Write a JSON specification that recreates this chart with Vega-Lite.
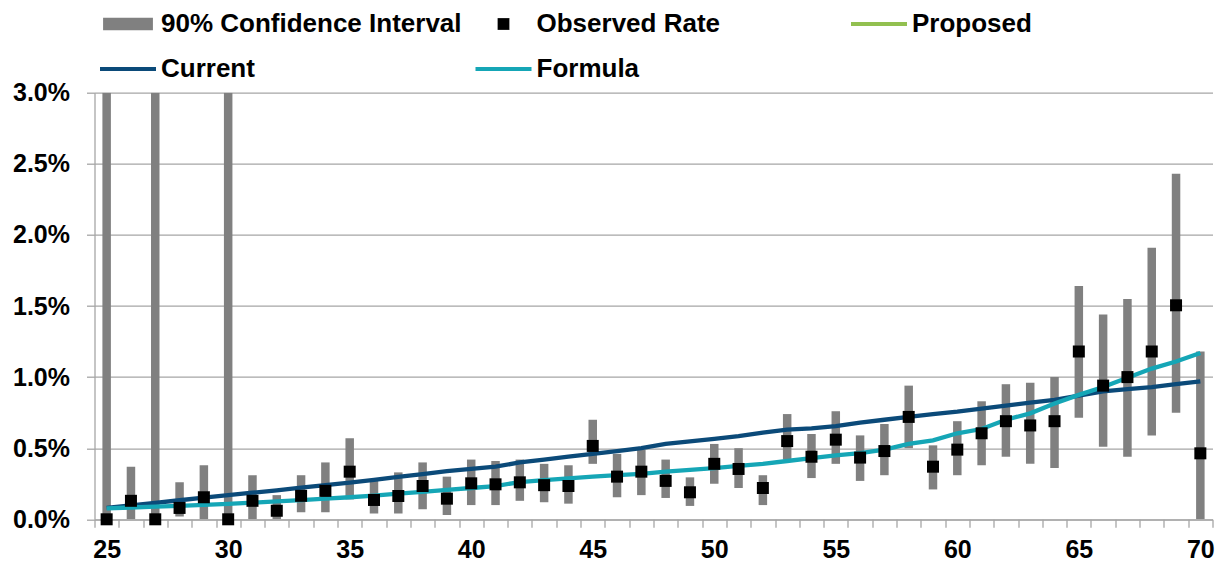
{
  "$schema": "https://vega.github.io/schema/vega-lite/v6.json",
  "autosize": {"type": "none"},
  "padding": {"left": 94.5, "top": 92.7, "right": 5.5, "bottom": 42.7},
  "width": 1118,
  "height": 426.6,
  "background": "white",
  "config": {
    "view": {"stroke": null},
    "font": "Liberation Sans"
  },
  "datasets": {
    "rates": [
      {"age": 25, "lo": 0, "hi": 3.0, "obs": 0.0, "cur": 0.08, "form": 0.077},
      {"age": 26, "lo": 0, "hi": 0.37, "obs": 0.13, "cur": 0.098, "form": 0.083},
      {"age": 27, "lo": 0, "hi": 3.0, "obs": 0.0, "cur": 0.116, "form": 0.089},
      {"age": 28, "lo": 0.02, "hi": 0.26, "obs": 0.08, "cur": 0.134, "form": 0.095},
      {"age": 29, "lo": 0, "hi": 0.38, "obs": 0.155, "cur": 0.152, "form": 0.101},
      {"age": 30, "lo": 0, "hi": 3.0, "obs": 0.0, "cur": 0.17, "form": 0.108},
      {"age": 31, "lo": 0, "hi": 0.31, "obs": 0.13, "cur": 0.187, "form": 0.117},
      {"age": 32, "lo": 0, "hi": 0.17, "obs": 0.06, "cur": 0.204, "form": 0.126},
      {"age": 33, "lo": 0.05, "hi": 0.31, "obs": 0.165, "cur": 0.222, "form": 0.135},
      {"age": 34, "lo": 0.05, "hi": 0.40, "obs": 0.20, "cur": 0.24, "form": 0.145},
      {"age": 35, "lo": 0.14, "hi": 0.57, "obs": 0.335, "cur": 0.258, "form": 0.155},
      {"age": 36, "lo": 0.04, "hi": 0.28, "obs": 0.136, "cur": 0.278, "form": 0.167},
      {"age": 37, "lo": 0.04, "hi": 0.33, "obs": 0.164, "cur": 0.298, "form": 0.18},
      {"age": 38, "lo": 0.07, "hi": 0.40, "obs": 0.234, "cur": 0.318, "form": 0.193},
      {"age": 39, "lo": 0.03, "hi": 0.30, "obs": 0.145, "cur": 0.338, "form": 0.207},
      {"age": 40, "lo": 0.10, "hi": 0.42, "obs": 0.253, "cur": 0.355, "form": 0.22},
      {"age": 41, "lo": 0.10, "hi": 0.41, "obs": 0.246, "cur": 0.37, "form": 0.234},
      {"age": 42, "lo": 0.13, "hi": 0.42, "obs": 0.26, "cur": 0.40, "form": 0.262},
      {"age": 43, "lo": 0.12, "hi": 0.39, "obs": 0.24, "cur": 0.42, "form": 0.275},
      {"age": 44, "lo": 0.11, "hi": 0.38, "obs": 0.234, "cur": 0.44, "form": 0.288},
      {"age": 45, "lo": 0.39, "hi": 0.70, "obs": 0.516, "cur": 0.46, "form": 0.30},
      {"age": 46, "lo": 0.155, "hi": 0.46, "obs": 0.30, "cur": 0.48, "form": 0.31},
      {"age": 47, "lo": 0.17, "hi": 0.49, "obs": 0.335, "cur": 0.50, "form": 0.32},
      {"age": 48, "lo": 0.15, "hi": 0.42, "obs": 0.27, "cur": 0.53, "form": 0.335},
      {"age": 49, "lo": 0.094, "hi": 0.295, "obs": 0.19, "cur": 0.548, "form": 0.348},
      {"age": 50, "lo": 0.25, "hi": 0.53, "obs": 0.39, "cur": 0.565, "form": 0.36},
      {"age": 51, "lo": 0.22, "hi": 0.50, "obs": 0.354, "cur": 0.585, "form": 0.375},
      {"age": 52, "lo": 0.10, "hi": 0.31, "obs": 0.22, "cur": 0.61, "form": 0.39},
      {"age": 53, "lo": 0.42, "hi": 0.74, "obs": 0.55, "cur": 0.63, "form": 0.41},
      {"age": 54, "lo": 0.29, "hi": 0.60, "obs": 0.44, "cur": 0.64, "form": 0.43},
      {"age": 55, "lo": 0.39, "hi": 0.76, "obs": 0.56, "cur": 0.655, "form": 0.45},
      {"age": 56, "lo": 0.27, "hi": 0.59, "obs": 0.434, "cur": 0.68, "form": 0.466},
      {"age": 57, "lo": 0.31, "hi": 0.67, "obs": 0.48, "cur": 0.70, "form": 0.49},
      {"age": 58, "lo": 0.50, "hi": 0.94, "obs": 0.72, "cur": 0.72, "form": 0.53},
      {"age": 59, "lo": 0.21, "hi": 0.52, "obs": 0.37, "cur": 0.74, "form": 0.555},
      {"age": 60, "lo": 0.31, "hi": 0.69, "obs": 0.49, "cur": 0.757, "form": 0.605},
      {"age": 61, "lo": 0.38, "hi": 0.83, "obs": 0.605, "cur": 0.778, "form": 0.635},
      {"age": 62, "lo": 0.44, "hi": 0.95, "obs": 0.69, "cur": 0.80, "form": 0.70},
      {"age": 63, "lo": 0.39, "hi": 0.96, "obs": 0.66, "cur": 0.82, "form": 0.745},
      {"age": 64, "lo": 0.36, "hi": 1.00, "obs": 0.69, "cur": 0.84, "form": 0.815},
      {"age": 65, "lo": 0.715, "hi": 1.64, "obs": 1.18, "cur": 0.87, "form": 0.875},
      {"age": 66, "lo": 0.51, "hi": 1.44, "obs": 0.94, "cur": 0.90, "form": 0.93},
      {"age": 67, "lo": 0.44, "hi": 1.55, "obs": 1.00, "cur": 0.915, "form": 0.995},
      {"age": 68, "lo": 0.59, "hi": 1.91, "obs": 1.18, "cur": 0.93, "form": 1.06},
      {"age": 69, "lo": 0.75, "hi": 2.43, "obs": 1.505, "cur": 0.95, "form": 1.11},
      {"age": 70, "lo": 0, "hi": 1.18, "obs": 0.464, "cur": 0.97, "form": 1.17}
    ],
    "legendItems": [
      {"series": "90% Confidence Interval"},
      {"series": "Observed Rate"},
      {"series": "Proposed"},
      {"series": "Current"},
      {"series": "Formula"}
    ]
  },
  "encoding": {
    "x": {
      "field": "age",
      "type": "ordinal",
      "scale": {"type": "band", "paddingInner": 0, "paddingOuter": 0},
      "axis": {
        "title": null,
        "labelAngle": 0,
        "labelExpr": "datum.value % 5 === 0 ? datum.label : ''",
        "tickBand": "extent",
        "tickSize": 8,
        "tickColor": "#a6a6a6",
        "tickWidth": 1.3,
        "domainColor": "#a6a6a6",
        "domainWidth": 1.3,
        "labelFont": "Liberation Sans",
        "labelFontSize": 25,
        "labelFontWeight": "bold",
        "labelColor": "#000000",
        "labelPadding": 10,
        "grid": false
      }
    }
  },
  "layer": [
    {
      "data": {"name": "rates"},
      "mark": {"type": "bar", "size": 8.5, "color": "#808080", "clip": true},
      "encoding": {
        "y": {
          "field": "lo",
          "type": "quantitative",
          "scale": {"domain": [0, 3], "nice": false, "zero": true},
          "axis": {
            "title": null,
            "values": [0, 0.5, 1, 1.5, 2, 2.5, 3],
            "labelExpr": "format(datum.value, '.1f') + '%'",
            "labelFont": "Liberation Sans",
            "labelFontSize": 25,
            "labelFontWeight": "bold",
            "labelColor": "#000000",
            "labelPadding": 17,
            "tickSize": 8,
            "tickColor": "#a6a6a6",
            "tickWidth": 1.3,
            "domainColor": "#a6a6a6",
            "domainWidth": 1.3,
            "grid": true,
            "gridColor": "#a6a6a6",
            "gridWidth": 1.3
          }
        },
        "y2": {"field": "hi"}
      }
    },
    {
      "data": {"name": "rates"},
      "mark": {"type": "line", "color": "#0b4a79", "strokeWidth": 4.3},
      "encoding": {"y": {"field": "cur", "type": "quantitative"}}
    },
    {
      "data": {"name": "rates"},
      "mark": {"type": "line", "color": "#15a6b6", "strokeWidth": 4.3},
      "encoding": {"y": {"field": "form", "type": "quantitative"}}
    },
    {
      "data": {"name": "rates"},
      "mark": {"type": "point", "shape": "square", "filled": true, "size": 144, "color": "#000000", "opacity": 1},
      "encoding": {"y": {"field": "obs", "type": "quantitative"}}
    },
    {
      "data": {"name": "legendItems"},
      "mark": {"type": "point", "filled": true},
      "encoding": {
        "x": null,
        "opacity": {"value": 0},
        "color": {
          "field": "series",
          "type": "nominal",
          "scale": {
            "domain": ["90% Confidence Interval", "Observed Rate", "Proposed", "Current", "Formula"],
            "range": ["#808080", "#000000", "#92c050", "#0b4a79", "#15a6b6"]
          },
          "legend": {
            "title": null,
            "orient": "none",
            "legendX": 5.5,
            "legendY": -96.7,
            "columns": 3,
            "direction": "horizontal",
            "gridAlign": "all",
            "columnPadding": 13.5,
            "rowPadding": 4,
            "padding": 0,
            "symbolSize": 3136,
            "labelOffset": 5,
            "labelFont": "Liberation Sans",
            "labelFontSize": 26,
            "labelFontWeight": "bold",
            "labelColor": "#000000",
            "labelLimit": 400,
            "encode": {"symbols": {"update": {"opacity": {"value": 1}, "fillOpacity": {"value": 1}, "strokeWidth": {"value": 0}}}}
          }
        },
        "shape": {
          "field": "series",
          "type": "nominal",
          "scale": {
            "domain": ["90% Confidence Interval", "Observed Rate", "Proposed", "Current", "Formula"],
            "range": [
              "M-0.89,-0.22H0.89V0.22H-0.89Z",
              "M-0.21,-0.21H0.21V0.21H-0.21Z",
              "M-1,-0.075H1V0.075H-1Z",
              "M-1,-0.075H1V0.075H-1Z",
              "M-1,-0.075H1V0.075H-1Z"
            ]
          }
        }
      }
    }
  ]
}
